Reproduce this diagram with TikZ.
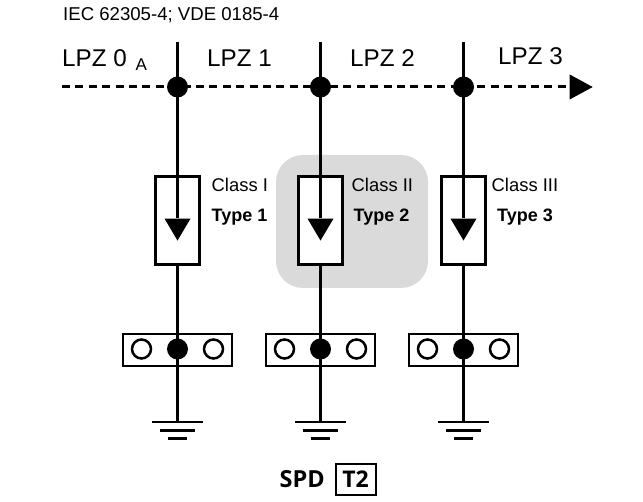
\documentclass[tikz,border=0pt]{standalone}
\usepackage{fontspec}
\setmainfont{Liberation Sans}
\newfontfamily\spdfont{Open Sans}
\usetikzlibrary{shapes.geometric}
\definecolor{zonegrey}{RGB}{218,218,218}
\tikzset{
  wire/.style={draw=black,line width=3.1pt},
  gndline/.style={draw=black,line width=2.8pt},
  dot/.style={circle,fill=black,draw=none,minimum size=21pt,inner sep=0pt},
  hole/.style={circle,fill=white,draw=black,line width=2.5pt,minimum size=19pt,inner sep=0pt},
  spdbox/.style={rectangle,fill=white,draw=black,line width=3pt,minimum width=44pt,minimum height=88pt,inner sep=0pt},
  busbar/.style={rectangle,fill=white,draw=black,line width=2.8pt,minimum width=109pt,minimum height=32pt,inner sep=0pt},
  tip/.style={isosceles triangle,isosceles triangle apex angle=60,shape border rotate=-90,fill=black,draw=none,minimum height=22pt,inner sep=0pt,isosceles triangle stretches=true,minimum width=26pt},
  zonetxt/.style={font=\fontsize{24.2}{26}\selectfont,inner sep=0pt,anchor=base west},
  classtxt/.style={font=\fontsize{18.4}{20}\selectfont,inner sep=0pt,anchor=base west},
  typetxt/.style={font=\fontsize{18}{20}\selectfont\bfseries,inner sep=0pt,anchor=base west}
}
\begin{document}
\begin{tikzpicture}[x=1pt,y=-1pt]
\useasboundingbox (0,0) rectangle (643,502);
\fill[zonegrey,rounded corners=27pt] (276,155) rectangle (428,288);
\node[inner sep=0pt,anchor=base west,font=\fontsize{18.6}{20}\selectfont] (std) at (63,20.5) {IEC 62305-4; VDE 0185-4};
\node[zonetxt] (z0) at (62,67) {LPZ 0};
\node[inner sep=0pt,anchor=base west,font=\fontsize{17}{18}\selectfont] (z0a) at (135.5,71) {A};
\node[zonetxt] (z1) at (207,67) {LPZ 1};
\node[zonetxt] (z2) at (350,67) {LPZ 2};
\node[zonetxt] (z3) at (498,65) {LPZ 3};
% main dashed line
\coordinate (ls) at (62,87);
\node[isosceles triangle,isosceles triangle apex angle=60,fill=black,draw=none,inner sep=0pt,minimum height=23pt,minimum width=25pt,isosceles triangle stretches=true,anchor=lower side] (la) at (569.5,87) {};
\draw[line width=3pt,dash pattern=on 8pt off 5.4pt] (ls) -- (la.lower side);
% columns
\foreach \n/\x/\lab/\typ/\clx/\tpx in {a/177.5/Class I/Type 1/211.5/211.5,b/320.5/Class II/Type 2/351.5/353.5,c/463.5/Class III/Type 3/491.5/497}{
  \coordinate (top\n) at (\x,42);
  \node[dot] (j\n) at (\x,87) {};
  \node[spdbox] (s\n) at (\x,221) {};
  \node[busbar] (b\n) at (\x,350) {};
  \coordinate (g1\n) at (\x,422);
  \coordinate (g2\n) at (\x,430.5);
  \coordinate (g3\n) at (\x,438.5);
  \draw[wire] (top\n) -- (j\n.center) -- (s\n.north) -- (\x,218);
  \draw[wire] (s\n.south) -- (b\n.north);
  \draw[wire] (b\n.south) -- (g1\n);
  \draw[wire] (b\n.north) -- (b\n.south);
  \node[tip] (t\n) at (\x,226) {};
  \node[dot] (d\n) at (\x,349) {};
  \node[hole] (l\n) at (\x-36,349) {};
  \node[hole] (r\n) at (\x+36,349) {};
  \draw[gndline] ([xshift=-25.5pt]g1\n) -- ([xshift=25.5pt]g1\n);
  \draw[gndline] ([xshift=-17.5pt]g2\n) -- ([xshift=17.5pt]g2\n);
  \draw[gndline] ([xshift=-9.5pt]g3\n) -- ([xshift=9.5pt]g3\n);
  \node[classtxt] (cl\n) at (\clx,192) {\lab};
  \node[typetxt] (ty\n) at (\tpx,221.5) {\typ};
}
% SPD label
\node[inner sep=0pt,anchor=base west,font=\spdfont\fontsize{23.5}{25}\selectfont\bfseries] (spd) at (279.5,488) {SPD};
\node[draw=black,line width=2pt,inner sep=0pt,minimum width=40pt,minimum height=31pt,font=\spdfont\fontsize{23}{25}\selectfont\bfseries,text depth=0pt] (t2) at (355.5,479.5) {T2};
\end{tikzpicture}
\end{document}
